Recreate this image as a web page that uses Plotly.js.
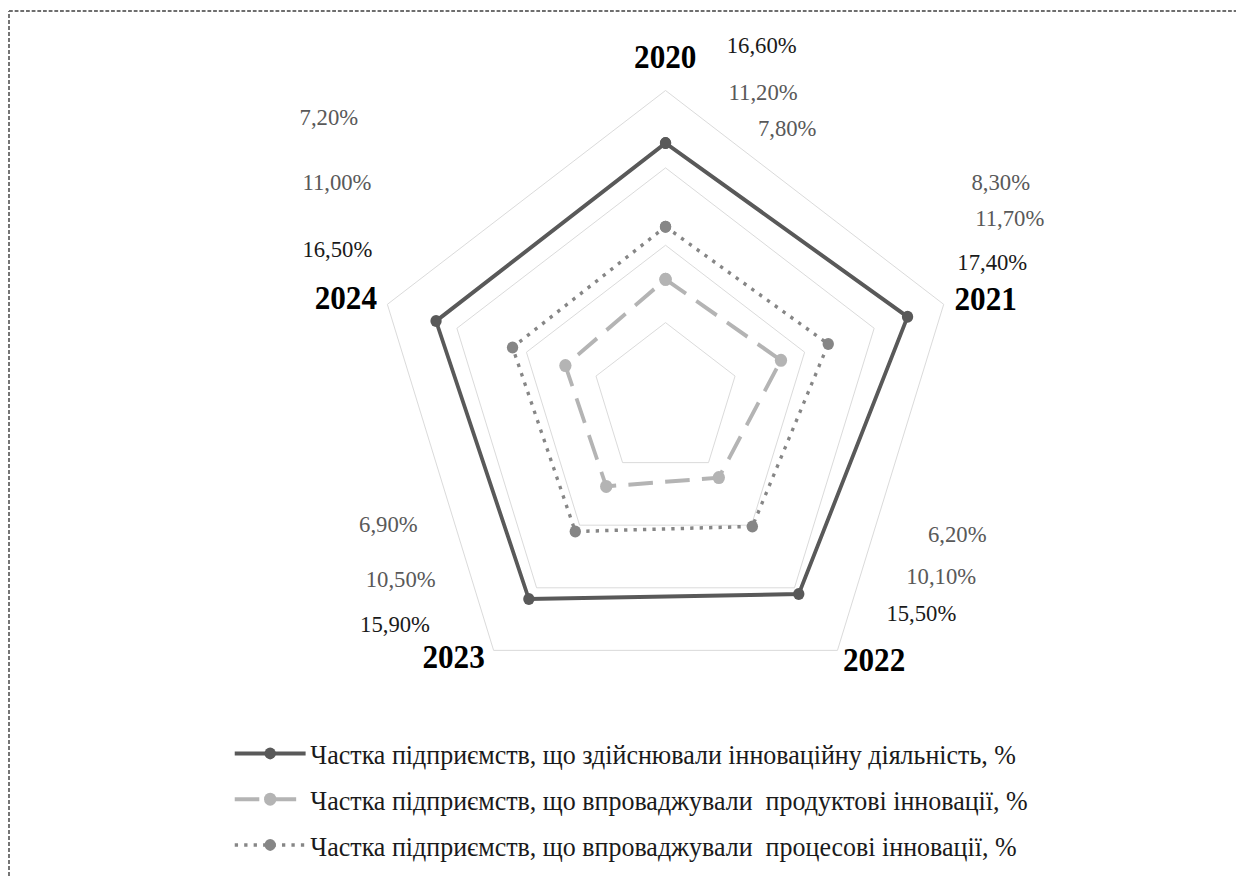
<!DOCTYPE html>
<html>
<head>
<meta charset="utf-8">
<script src="https://cdn.plot.ly/plotly-3.0.1.min.js"></script>
<style>
html, body { margin: 0; padding: 0; background: #ffffff; overflow: hidden; }
#wrap { width: 1236px; height: 876px; overflow: hidden; }
#chart { width: 1308px; height: 876px; transform: scaleX(0.945); transform-origin: 0 0; }
</style>
</head>
<body>
<div id="wrap"><div id="chart"></div></div>
<script>
// ---- data ----
const years = ["2020", "2021", "2022", "2023", "2024"];
const seriesNames = [
  "Частка підприємств, що здійснювали інноваційну діяльність, %",
  "Частка підприємств, що впроваджували  продуктові інновації, %",
  "Частка підприємств, що впроваджували  процесові інновації, %"
];
const innovActivity = [16.6, 17.4, 15.5, 15.9, 16.5];
const productInnov  = [7.8, 8.3, 6.2, 6.9, 7.2];
const processInnov  = [11.2, 11.7, 10.1, 10.5, 11.0];

// ---- styles ----
const seriesValues = [innovActivity, productInnov, processInnov];
const lineColors = ["#595959", "#b4b4b4", "#868686"];
const lineDash = ["solid", "26px,13px", "3.5px,6.5px"];
const lineWidth = [4, 4, 3.5];
const markerSize = [12, 13, 12];
const labelColors = ["#1a1a1a", "#595959", "#595959"];
const serif = "Liberation Serif, Times New Roman, serif";

const S = 0.945;           // horizontal squeeze of the whole picture
const W = 1236 / S, H = 876;
const px = x => (x / S) / W;     // reference px -> paper x
const py = y => 1 - y / H;       // reference px -> paper y

// label positions (reference pixels, centre) [series][year]
const labelPos = [
  [[762, 45], [992, 262], [921, 613], [395, 624], [337, 249]],
  [[787, 128], [1001, 182], [957, 534], [388, 524], [329, 117]],
  [[763, 92], [1010, 218], [941, 576], [401, 579], [337, 182]]
];
// category label positions (reference pixels, centre)
const yearPos = [[665, 57], [986, 299], [874, 660], [454, 657], [346, 298]];

const fmt = v => v.toFixed(2).replace('.', ',') + '%';

const traces = seriesValues.map((vals, i) => ({
  type: 'scatterpolar',
  r: vals.concat([vals[0]]),
  theta: years.concat([years[0]]),
  name: seriesNames[i],
  mode: 'lines+markers',
  line: { color: lineColors[i], width: lineWidth[i], dash: lineDash[i] },
  marker: { color: lineColors[i], size: markerSize[i], symbol: 'circle' },
  legendgroup: 'g' + i,
  hoverinfo: 'skip'
}));

const annotations = [];
seriesValues.forEach((vals, i) => {
  vals.forEach((v, j) => {
    annotations.push({
      xref: 'paper', yref: 'paper',
      x: px(labelPos[i][j][0]), y: py(labelPos[i][j][1]),
      xanchor: 'center', yanchor: 'middle',
      text: fmt(v), showarrow: false,
      font: { family: serif, size: 24, color: labelColors[i] }
    });
  });
});
years.forEach((yr, j) => {
  annotations.push({
    xref: 'paper', yref: 'paper',
    x: px(yearPos[j][0]), y: py(yearPos[j][1]),
    xanchor: 'center', yanchor: 'middle',
    text: '<b>' + yr + '</b>', showarrow: false,
    font: { family: serif, size: 33, color: '#000000' }
  });
});

const cx = 665.5 / S, cy = 400, R = 309.5;
const layout = {
  width: W, height: H,
  margin: { l: 0, r: 0, t: 0, b: 0 },
  paper_bgcolor: '#ffffff',
  showlegend: true,
  polar: {
    domain: { x: [(cx - R) / W, (cx + R) / W], y: [1 - (cy + R) / H, 1 - (cy - R) / H] },
    gridshape: 'linear',
    bgcolor: 'rgba(0,0,0,0)',
    radialaxis: {
      range: [0, 20], dtick: 5, tick0: 0,
      showticklabels: false, ticks: '', showline: false,
      gridcolor: '#d9d9d9', gridwidth: 1
    },
    angularaxis: {
      type: 'category', categoryarray: years,
      rotation: 90, direction: 'clockwise',
      showgrid: false, showline: true, linecolor: '#d9d9d9', linewidth: 1,
      ticks: '', showticklabels: false
    }
  },
  legend: {
    x: px(230), xanchor: 'left',
    y: py(729), yanchor: 'top',
    orientation: 'v',
    traceorder: 'grouped',
    tracegroupgap: 7,
    itemwidth: 75,
    font: { family: serif, size: 27.5, color: '#1a1a1a' },
    bgcolor: 'rgba(0,0,0,0)'
  },
  annotations: annotations,
  shapes: [
    { type: 'line', xref: 'paper', yref: 'paper', x0: px(9), x1: px(9), y0: 0, y1: py(11),
      line: { color: '#6e6e6e', width: 2, dash: '4px,2px' } },
    { type: 'line', xref: 'paper', yref: 'paper', x0: px(9), x1: 1, y0: py(11), y1: py(11),
      line: { color: '#6e6e6e', width: 2, dash: '4px,2px' } }
  ]
};

Plotly.newPlot('chart', traces, layout, { displayModeBar: false, staticPlot: true });
</script>
</body>
</html>
